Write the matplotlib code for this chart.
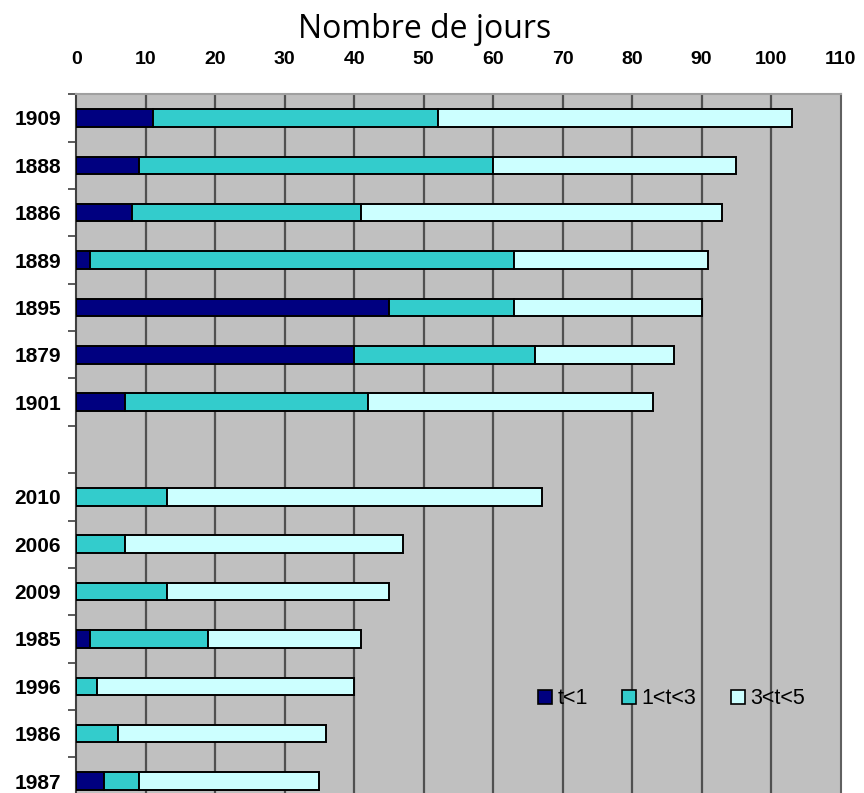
import matplotlib.pyplot as plt
from matplotlib.patches import Patch

# rows from top to bottom, the empty label is the gap between the two groups
years = ['1909', '1888', '1886', '1889', '1895', '1879', '1901', '',
         '2010', '2006', '2009', '1985', '1996', '1986', '1987']
t_lt1 = [11, 9, 8, 2, 45, 40, 7, 0, 0, 0, 0, 2, 0, 0, 4]
t_1_3 = [41, 51, 33, 61, 18, 26, 35, 0, 13, 7, 13, 17, 3, 6, 5]
t_3_5 = [51, 35, 52, 28, 27, 20, 41, 0, 54, 40, 32, 22, 37, 30, 26]
series_names = ['t<1', '1<t<3', '3<t<5']
series_colors = ['#000080', '#33CCCC', '#CCFFFF']
x_ticks = list(range(0, 111, 10))

fig = plt.figure(figsize=(8.64, 7.93), dpi=100)
W, H = 864, 793
# plot box in pixels: left 76, right 840, top 94, bottom runs past the image
ax = fig.add_axes([76.2 / W, (H - 804.7) / H, (840.5 - 76.2) / W, (804.7 - 94.3) / H])
ax.set_facecolor('#C0C0C0')

rows = [i for i, y in enumerate(years) if y]  # skip the gap row
left = [0] * len(years)
for vals, name, col in zip([t_lt1, t_1_3, t_3_5], series_names, series_colors):
    ax.barh(rows, [vals[i] for i in rows], left=[left[i] for i in rows], height=0.37,
            color=col, edgecolor='black', linewidth=1.4, label=name, zorder=3)
    left = [a + b for a, b in zip(left, vals)]

ax.set_xlim(0, 110)
ax.set_ylim(len(years) - 0.5, -0.5)

# vertical grid
for x in x_ticks[1:-1]:
    ax.axvline(x, color='#505050', linewidth=1.6, zorder=1)

ax.xaxis.tick_top()
ax.set_xticks(x_ticks)
ax.tick_params(axis='x', length=0, pad=19)
for lab in ax.get_xticklabels():
    lab.set_fontfamily('Liberation Sans')
    lab.set_fontweight('bold')
    lab.set_fontsize(14)

ax.set_yticks(list(range(len(years))))
ax.set_yticklabels(years, fontfamily='Liberation Sans', fontweight='bold', fontsize=15)
ax.tick_params(axis='y', which='major', length=0, pad=11)
boundaries = [k + 0.5 for k in range(-1, len(years) - 1)] + [years.index('')]
ax.set_yticks(boundaries, minor=True)
ax.tick_params(axis='y', which='minor', length=6, width=1.2, color='#404040', direction='out')

ax.spines['left'].set_color('#404040')
ax.spines['left'].set_linewidth(1.5)
ax.spines['right'].set_color('#606060')
ax.spines['right'].set_linewidth(1.5)
ax.spines['top'].set_color('#A0A0A0')
ax.spines['top'].set_linewidth(1.5)
ax.spines['bottom'].set_visible(False)

fig.text(425 / W, 1 - 29 / H, 'Nombre de jours', ha='center', va='center',
         fontfamily='Open Sans', fontsize=23)

handles = [Patch(facecolor=c, edgecolor='black', linewidth=1.2, label=n)
           for n, c in zip(series_names, series_colors)]
ax.legend(handles=handles, loc='center left', bbox_to_anchor=(0.604, 0.149),
          ncol=3, frameon=False, borderpad=0, borderaxespad=0,
          handlelength=0.66, handleheight=0.66, handletextpad=0.25,
          columnspacing=1.6, prop={'family': 'Liberation Sans', 'size': 15.5})

plt.savefig('out.png', dpi=100)
